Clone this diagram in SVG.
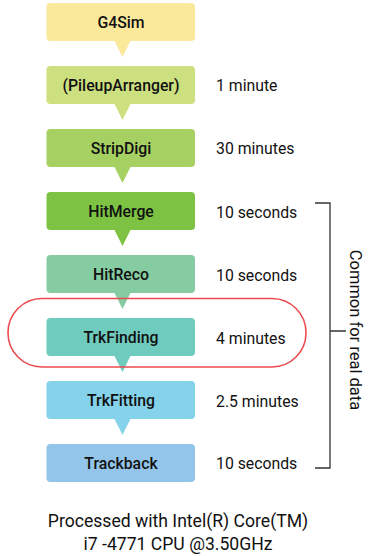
<svg xmlns="http://www.w3.org/2000/svg" width="371" height="556" viewBox="0 0 371 556">
<style>
.box text{font-family:Roboto,"Liberation Sans",sans-serif;font-size:15.8px;font-weight:500;fill:#111;text-anchor:middle}
.t{font-family:Roboto,"Liberation Sans",sans-serif;font-size:15.8px;fill:#111}
.br{stroke:#333;stroke-width:1.3;fill:none}
</style>
<rect width="371" height="556" fill="#fff"/>
<g id="g4sim" class="box"><rect x="46.5" y="3" width="148.5" height="38" rx="4" fill="#fae89b"/><path d="M114 40 L131 40 L122.5 57 Z" fill="#fae89b"/><text x="121" y="27.5">G4Sim</text></g>
<g id="pileup" class="box"><rect x="46.5" y="66" width="148.5" height="38" rx="4" fill="#cde07f"/><path d="M114 103 L131 103 L122.5 120 Z" fill="#cde07f"/><text x="121" y="90.5">(PileupArranger)</text></g>
<g id="stripdigi" class="box"><rect x="46.5" y="129" width="148.5" height="38" rx="4" fill="#a7d063"/><path d="M114 166 L131 166 L122.5 183 Z" fill="#a7d063"/><text x="121" y="153.5">StripDigi</text></g>
<g id="hitmerge" class="box"><rect x="46.5" y="192" width="148.5" height="38" rx="4" fill="#7dc243"/><path d="M114 229 L131 229 L122.5 246 Z" fill="#7dc243"/><text x="121" y="216.5">HitMerge</text></g>
<g id="hitreco" class="box"><rect x="46.5" y="255" width="148.5" height="38" rx="4" fill="#86cca2"/><path d="M114 292 L131 292 L122.5 309 Z" fill="#86cca2"/><text x="121" y="279.5">HitReco</text></g>
<g id="trkfinding" class="box"><rect x="46.5" y="318" width="148.5" height="38" rx="4" fill="#6fcbbe"/><path d="M114 355 L131 355 L122.5 372 Z" fill="#6fcbbe"/><text x="121" y="342.5">TrkFinding</text></g>
<g id="trkfitting" class="box"><rect x="46.5" y="381" width="148.5" height="38" rx="4" fill="#84d3ea"/><path d="M114 418 L131 418 L122.5 435 Z" fill="#84d3ea"/><text x="121" y="405.5">TrkFitting</text></g>
<g id="trackback" class="box"><rect x="46.5" y="444" width="148.5" height="38" rx="4" fill="#93c5ea"/><text x="121" y="468.5">Trackback</text></g>
<g id="highlight"><rect x="8" y="298.5" width="298" height="68.5" rx="34" fill="none" stroke="#ea4b4f" stroke-width="1.6"/></g>
<g id="labels">
<text class="t" x="216" y="90.5">1 minute</text>
<text class="t" x="216" y="153.5">30 minutes</text>
<text class="t" x="216" y="217.5">10 seconds</text>
<text class="t" x="216" y="280.5">10 seconds</text>
<text class="t" x="216" y="343.5">4 minutes</text>
<text class="t" x="216" y="406.5">2.5 minutes</text>
<text class="t" x="216" y="468.5">10 seconds</text>
</g>
<g id="connectors"><path class="br" d="M315 203 H330 V468 H315 M330 331 H346"/></g>
<g id="common"><text class="t" transform="translate(350,330) rotate(90)" text-anchor="middle" style="font-size:16.5px">Common for real data</text></g>
<g id="footer">
<text class="t" x="178" y="527" text-anchor="middle" style="font-size:17.6px">Processed with Intel(R) Core(TM)</text>
<text class="t" x="178" y="550" text-anchor="middle" style="font-size:17.6px">i7 -4771 CPU @3.50GHz</text>
</g>
</svg>
